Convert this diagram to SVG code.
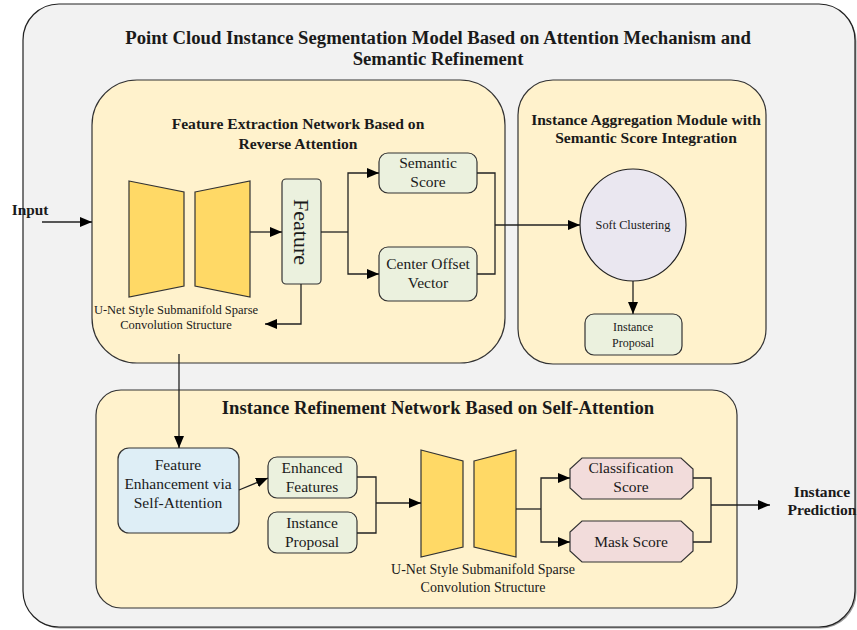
<svg xmlns="http://www.w3.org/2000/svg" width="857" height="630" viewBox="0 0 857 630">
<style>
text{font-family:"Liberation Serif","Times New Roman",serif;fill:#1a1a1a;text-anchor:middle}
.b{font-weight:bold}
.panel{fill:#FFF2CC;stroke:#333;stroke-width:1.2}
.green{fill:#EBF1DE;stroke:#333;stroke-width:1.2}
.trap{fill:#FFD966;stroke:#333;stroke-width:1.2}
.c{fill:none;stroke:#222;stroke-width:1.3}
</style>
<defs>
<marker id="ah" markerWidth="12" markerHeight="10" refX="12" refY="5" orient="auto" markerUnits="userSpaceOnUse">
<path d="M0,0 L12,5 L0,10 Z" fill="#000"/>
</marker>
</defs>
<g id="outer">
<rect x="24.5" y="5.5" width="832" height="623" rx="36" fill="#999"/>
<rect x="23" y="4" width="832" height="623" rx="36" fill="#F2F2F2" stroke="#222" stroke-width="1.2"/>
<text class="b" x="438" y="44" font-size="18.7">Point Cloud Instance Segmentation Model Based on Attention Mechanism and</text>
<text class="b" x="438" y="65" font-size="18.7">Semantic Refinement</text>
</g>
<g id="feature-extraction">
<rect x="92" y="80" width="413" height="283" rx="45" class="panel"/>
<text class="b" x="298" y="129" font-size="15.6">Feature Extraction Network Based on</text>
<text class="b" x="298" y="149" font-size="15.6">Reverse Attention</text>
</g>
<g id="instance-aggregation">
<rect x="518" y="80" width="248" height="284" rx="35" class="panel"/>
<text class="b" x="646" y="125" font-size="15.6">Instance Aggregation Module with</text>
<text class="b" x="646" y="143" font-size="15.6">Semantic Score Integration</text>
</g>
<g id="instance-refinement">
<rect x="96" y="390" width="641" height="218" rx="25" class="panel"/>
<text class="b" x="438" y="414" font-size="18.7">Instance Refinement Network Based on Self-Attention</text>
</g>
<g id="unet1">
<polygon class="trap" points="129,181 184,192 184,286 129,297"/>
<polygon class="trap" points="195,192 250,181 250,297 195,286"/>
<text x="176" y="314" font-size="12.5">U-Net Style Submanifold Sparse</text>
<text x="176" y="329" font-size="12.5">Convolution Structure</text>
</g>
<g id="feature">
<rect x="282" y="179" width="39" height="105" rx="4" class="green"/>
<text x="301" y="232" font-size="22" transform="rotate(90 301 232)" dy="7.5">Feature</text>
</g>
<g id="semantic-score">
<rect x="379" y="153" width="98" height="40" rx="9" class="green"/>
<text x="428" y="168" font-size="15.5">Semantic</text>
<text x="428" y="187" font-size="15.5">Score</text>
</g>
<g id="center-offset">
<rect x="379" y="247" width="98" height="54" rx="9" class="green"/>
<text x="428" y="269" font-size="15.5">Center Offset</text>
<text x="428" y="288" font-size="15.5">Vector</text>
</g>
<g id="soft-clustering">
<ellipse cx="633" cy="225" rx="53" ry="56" fill="#EAE7F0" stroke="#222" stroke-width="1.2"/>
<text x="633" y="229" font-size="12.3">Soft Clustering</text>
</g>
<g id="instance-proposal-1">
<rect x="585" y="314" width="97" height="41" rx="9" class="green"/>
<text x="633" y="331" font-size="12">Instance</text>
<text x="633" y="347" font-size="12">Proposal</text>
</g>
<g id="feature-enhancement">
<rect x="118" y="448" width="121" height="85" rx="11" fill="#DEEEF6" stroke="#333" stroke-width="1.2"/>
<text x="178" y="470" font-size="15.5">Feature</text>
<text x="178" y="489" font-size="15.5">Enhancement via</text>
<text x="178" y="508" font-size="15.5">Self-Attention</text>
</g>
<g id="enhanced-features">
<rect x="268" y="457" width="89" height="41" rx="9" class="green"/>
<text x="312" y="473" font-size="15.5">Enhanced</text>
<text x="312" y="492" font-size="15.5">Features</text>
</g>
<g id="instance-proposal-2">
<rect x="268" y="512" width="89" height="41" rx="9" class="green"/>
<text x="312" y="528" font-size="15.5">Instance</text>
<text x="312" y="547" font-size="15.5">Proposal</text>
</g>
<g id="unet2">
<polygon class="trap" points="421,450 463,461 463,547 421,557"/>
<polygon class="trap" points="474,461 516,450 516,557 474,547"/>
<text x="483" y="574" font-size="14">U-Net Style Submanifold Sparse</text>
<text x="483" y="592" font-size="14">Convolution Structure</text>
</g>
<g id="classification-score">
<polygon points="582,458 681,458 693,469 693,488 681,499 582,499 570,488 570,469" fill="#F2DCDB" stroke="#333" stroke-width="1.2"/>
<text x="631" y="473" font-size="15.5">Classification</text>
<text x="631" y="492" font-size="15.5">Score</text>
</g>
<g id="mask-score">
<polygon points="582,521 681,521 693,532 693,551 681,562 582,562 570,551 570,532" fill="#F2DCDB" stroke="#333" stroke-width="1.2"/>
<text x="631" y="547" font-size="15.5">Mask Score</text>
</g>
<g id="input-label"><text class="b" x="30" y="215" font-size="15.3">Input</text></g>
<g id="prediction-label">
<text class="b" x="822" y="497" font-size="15.6">Instance</text>
<text class="b" x="822" y="515" font-size="15.6">Prediction</text>
</g>
<g id="connectors">
<path class="c" d="M42,222 H92" marker-end="url(#ah)"/>
<path class="c" d="M250,232 H282" marker-end="url(#ah)"/>
<path class="c" d="M321,232 H348"/>
<path class="c" d="M348,232 V173 H379" marker-end="url(#ah)"/>
<path class="c" d="M348,232 V274 H379" marker-end="url(#ah)"/>
<path class="c" d="M301,284 V324 H265" marker-end="url(#ah)"/>
<path class="c" d="M477,173 H495 V274 H477"/>
<path class="c" d="M495,225 H580" marker-end="url(#ah)"/>
<path class="c" d="M633,281 V314" marker-end="url(#ah)"/>
<path class="c" d="M179,354 V448" marker-end="url(#ah)"/>
<path class="c" d="M239,490 L268,478" marker-end="url(#ah)"/>
<path class="c" d="M357,477 H376 V533 H357"/>
<path class="c" d="M376,503 H421" marker-end="url(#ah)"/>
<path class="c" d="M516,509 H541"/>
<path class="c" d="M541,509 V478 H570" marker-end="url(#ah)"/>
<path class="c" d="M541,509 V542 H570" marker-end="url(#ah)"/>
<path class="c" d="M693,478 H711 V542 H693"/>
<path class="c" d="M711,505 H770" marker-end="url(#ah)"/>
</g>
</svg>
